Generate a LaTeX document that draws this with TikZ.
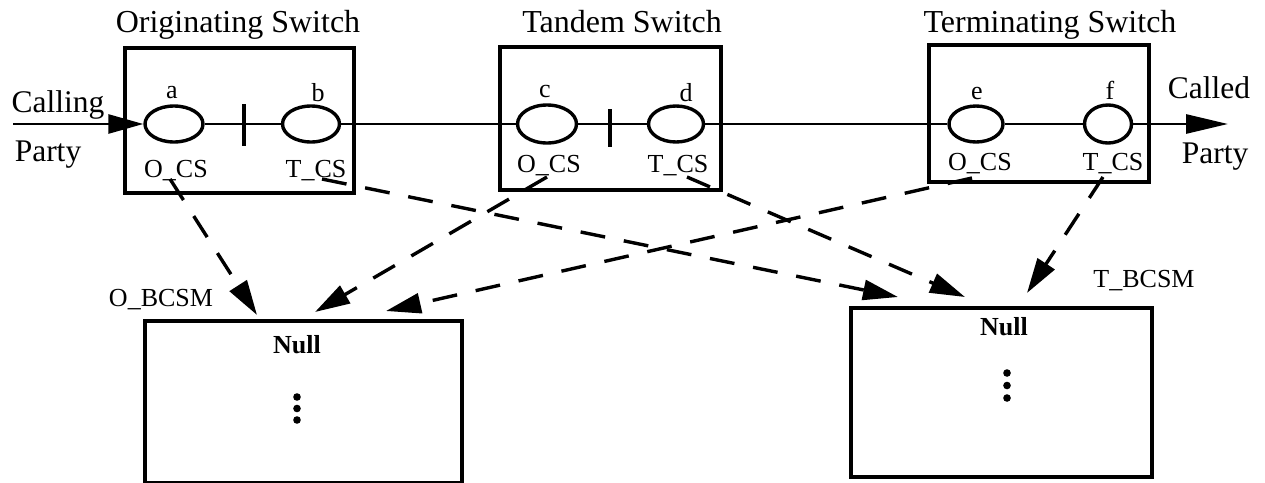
\documentclass[tikz,border=0pt]{standalone}
\usepackage{fontspec}
\setmainfont{Liberation Serif}
\usetikzlibrary{arrows.meta,shapes.geometric}
\begin{document}
\begin{tikzpicture}[x=1pt,y=-1pt,
  swbox/.style={draw,line width=3.4pt,rectangle,inner sep=0pt},
  state/.style={draw,line width=3.4pt,ellipse,inner sep=0pt,minimum height=36pt},
  lbl/.style={inner sep=0pt,anchor=base,font=\fontsize{26}{30}\selectfont},
  big/.style={inner sep=0pt,anchor=base,font=\fontsize{31.5}{36}\selectfont},
  ttl/.style={inner sep=0pt,anchor=base,font=\fontsize{32}{36}\selectfont},
  nul/.style={inner sep=0pt,anchor=base,font=\fontsize{26}{30}\selectfont\bfseries},
  conn/.style={line width=3.4pt,dash pattern=on 25pt off 19pt,-{Triangle[length=35pt,width=20pt]}},
  wire/.style={line width=2.8pt},
  tick/.style={line width=3.2pt}
]
\useasboundingbox (0,0) rectangle (1265,482);

% titles
\node[ttl] (t1) at (238,32) {Originating Switch};
\node[ttl] (t2) at (622,32) {Tandem Switch};
\node[ttl] (t3) at (1050,32) {Terminating Switch};

% switch boxes
\node[swbox,minimum width=229pt,minimum height=145pt] (osw) at (239.5,120.5) {};
\node[swbox,minimum width=221pt,minimum height=143pt] (tsw) at (610.5,118.5) {};
\node[swbox,minimum width=220pt,minimum height=137pt] (esw) at (1039,113.5) {};

% states
\node[state,minimum width=58pt] (a) at (174,124) {};
\node[state,minimum width=57pt] (b) at (311,124) {};
\node[state,minimum width=59pt,minimum height=38pt] (c) at (547,124) {};
\node[state,minimum width=55pt] (d) at (676,124) {};
\node[state,minimum width=54pt] (e) at (976,124) {};
\node[state,minimum width=47pt,minimum height=38pt] (f) at (1108,124) {};

% state letters
\node[lbl] (la) at (172,98) {a};
\node[lbl] (lb) at (318,101) {b};
\node[lbl] (lc) at (545,97) {c};
\node[lbl] (ld) at (686,101) {d};
\node[lbl] (le) at (977,99) {e};
\node[lbl] (lf) at (1110,99) {f};

% CS labels
\node[lbl] (oa) at (176,177) {O\_CS};
\node[lbl] (tb) at (316,177) {T\_CS};
\node[lbl] (oc) at (549,172) {O\_CS};
\node[lbl] (td) at (678,172) {T\_CS};
\node[lbl] (oe) at (980,170) {O\_CS};
\node[lbl] (tf) at (1113,170) {T\_CS};

% party labels
\node[big] (cg) at (58,112) {Calling};
\node[big] (pg) at (48,161) {Party};
\node[big] (cd) at (1209,98) {Called};
\node[big] (pd) at (1215,163) {Party};

% wire
\coordinate (in) at (13,124);
\coordinate (out) at (1228,124);
\draw[wire,-{Triangle[length=35pt,width=19pt]}] (in) -- (a.west);
\draw[wire] (a.east) -- (b.west);
\draw[wire] (b.east) -- (c.west);
\draw[wire] (c.east) -- (d.west);
\draw[wire] (d.east) -- (e.west);
\draw[wire] (e.east) -- (f.west);
\draw[wire,-{Triangle[length=42pt,width=19pt]}] (f.east) -- (out);
\draw[tick] (244,104) -- (244,146);
\draw[tick] (610,109) -- (610,147);

% BCSM boxes
\node[swbox,minimum width=317pt,minimum height=162pt] (ob) at (303.5,402) {};
\node[swbox,minimum width=301pt,minimum height=169pt] (tbm) at (1001.5,392.5) {};
\node[lbl] (obl) at (161,306) {O\_BCSM};
\node[lbl] (tbl) at (1144,287) {T\_BCSM};
\node[nul] (n1) at (297,353) {Null};
\node[nul] (n2) at (1004,335) {Null};
\fill (297,397) circle (3.8pt) (297,408.5) circle (3.8pt) (297,420) circle (3.8pt);
\fill (1007,373) circle (3.8pt) (1007,385.5) circle (3.8pt) (1007,398) circle (3.8pt);

% connector ends
\coordinate (s1) at (170,179);
\coordinate (s2) at (322,179);
\coordinate (s3) at (547,177);
\coordinate (s4) at (687,177);
\coordinate (s5) at (972,178);
\coordinate (s6) at (1103,177);
\coordinate (e1) at (257,315);
\coordinate (e2) at (898,297);
\coordinate (e3) at (315,312);
\coordinate (e4) at (965,297);
\coordinate (e5) at (386,311);
\coordinate (e6) at (1027,293);
\draw[conn] (s1) -- (e1);
\draw[conn] (s2) -- (e2);
\draw[conn] (s3) -- (e3);
\draw[conn] (s4) -- (e4);
\draw[conn] (s5) -- (e5);
\draw[conn] (s6) -- (e6);
\end{tikzpicture}
\end{document}
